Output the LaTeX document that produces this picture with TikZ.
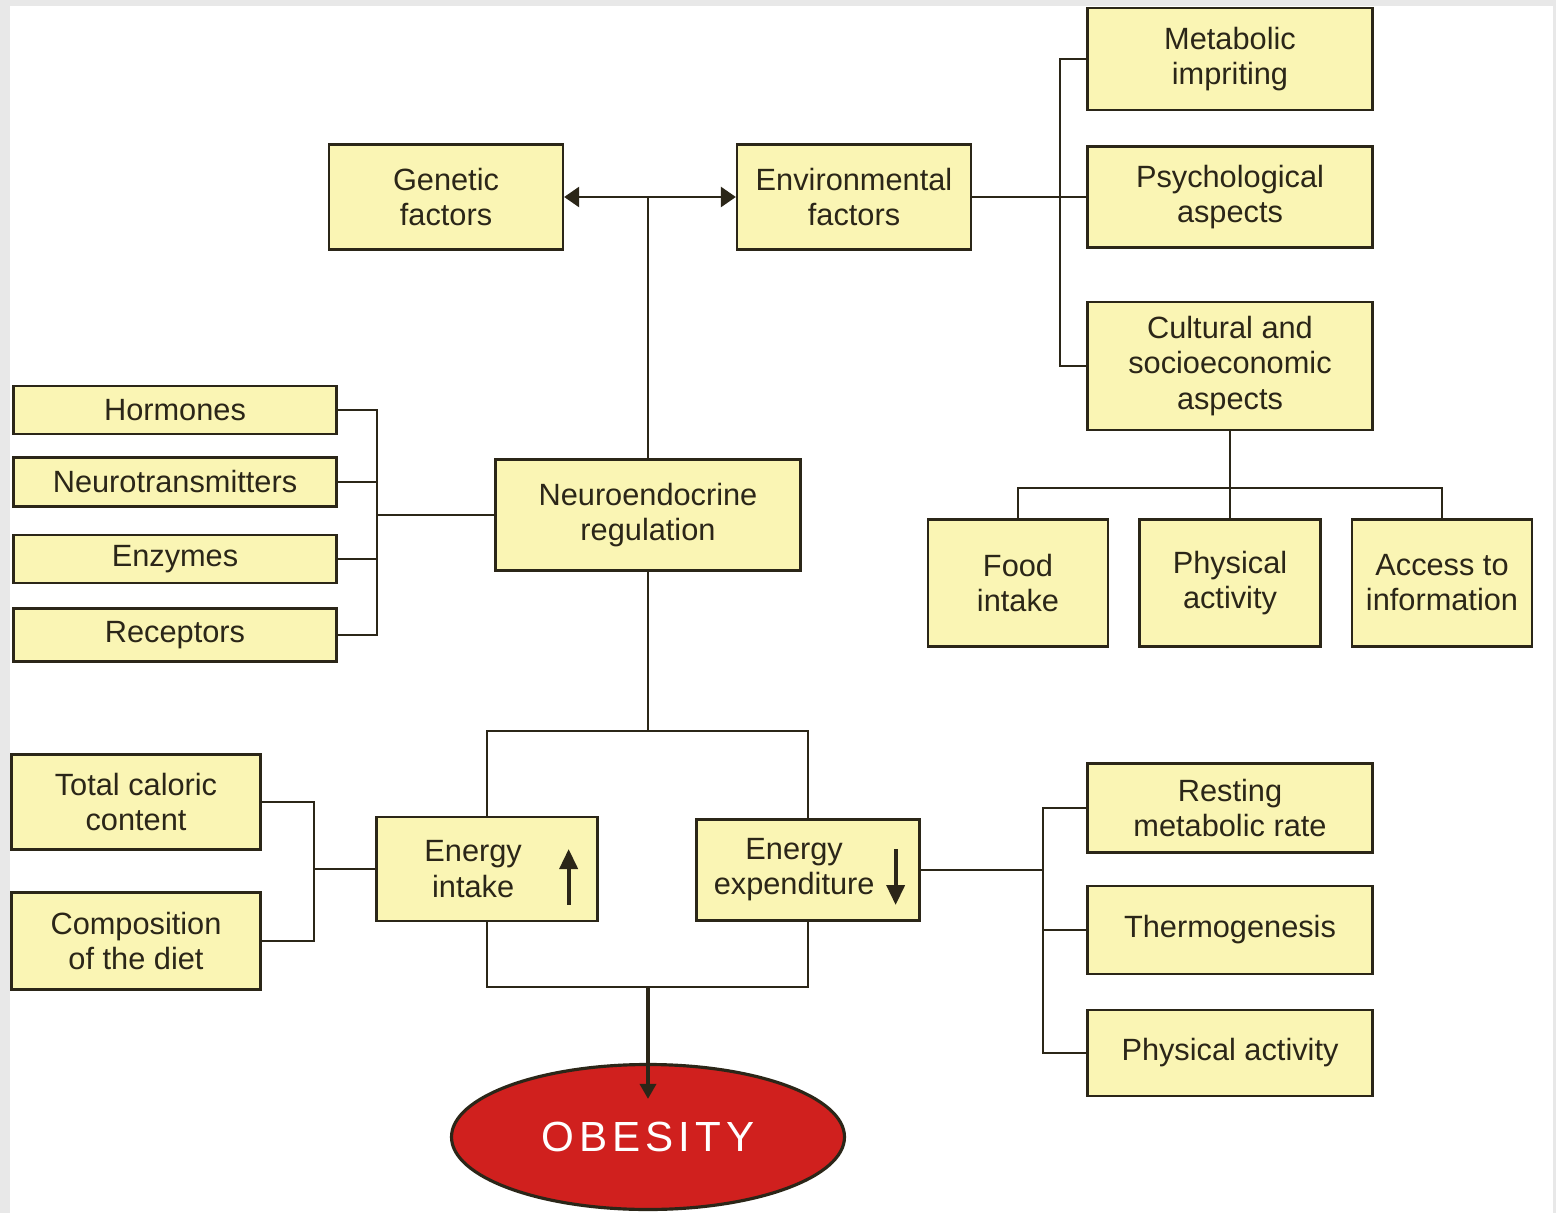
\documentclass[tikz,border=0pt]{standalone}
\usepackage{fontspec}
\setmainfont{Liberation Sans}
\usepackage{tikz}
\usetikzlibrary{arrows.meta,shapes.geometric}
\definecolor{boxfill}{HTML}{FAF5B4}
\definecolor{boxline}{HTML}{2B2618}
\definecolor{frame}{HTML}{E8E8E8}
\definecolor{obesered}{HTML}{D0201E}
\begin{document}
\begin{tikzpicture}[x=0.02cm,y=-0.02cm,line width=1.5pt,draw=boxline,
    box/.style={draw=boxline,fill=boxfill,line width=1.3pt,align=center,inner sep=0pt,
        font=\fontsize{17.5}{20}\selectfont,text=boxline},
    sz/.style 2 args={minimum width=#1*0.02cm,minimum height=#2*0.02cm},
    tip/.style={-{Triangle[length=0.3cm,width=0.4cm]}},
    updown/.style={line width=2.2pt,-{Triangle[length=0.4cm,width=0.36cm]}}]
        \useasboundingbox (0,0) rectangle (1556,1213);
        \fill[frame] (0,0) rectangle (1556,1213);
        \fill[white] (10,6) rectangle (1553,1213);
        \node[box,sz={234}{105}] (Genetic_factors) at (446,197) {Genetic\\factors};
        \node[box,sz={234}{105}] (Environmental_factors) at (854,197) {Environmental\\factors};
        \node[box,sz={285}{102}] (Metabolic_impriting) at (1230,59) {Metabolic\\impriting};
        \node[box,sz={285}{101}] (Psychological_aspects) at (1230,197) {Psychological\\aspects};
        \node[box,sz={285}{128}] (Cultural_aspects) at (1230,366) {Cultural and\\socioeconomic\\aspects};
        \node[box,sz={180}{127}] (Food_intake) at (1018,583) {Food\\intake};
        \node[box,sz={181}{127}] (Physical_activity) at (1230,583) {Physical\\activity};
        \node[box,sz={180}{127}] (Access_information) at (1442,583) {Access to\\information};
        \node[box,sz={323}{48}] (Hormones) at (175,410) {Hormones};
        \node[box,sz={323}{49}] (Neurotransmitters) at (175,482) {Neurotransmitters};
        \node[box,sz={323}{48}] (Enzymes) at (175,559) {Enzymes};
        \node[box,sz={323}{53}] (Receptors) at (175,635) {Receptors};
        \node[box,sz={305}{111}] (Neuroendocrine) at (648,515) {Neuroendocrine\\regulation};
        \node[box,sz={249}{95}] (Total_caloric) at (136,802) {Total caloric\\content};
        \node[box,sz={249}{97}] (Composition_diet) at (136,941) {Composition\\of the diet};
        \node[box,sz={221}{104}] (Energy_intake) at (487,869) {Energy\hspace*{0.9em}\\intake\hspace*{0.9em}};
        \node[box,sz={223}{101}] (Energy_expenditure) at (808,870) {Energy\hspace*{0.9em}\\expenditure\hspace*{0.9em}};
        \node[box,sz={285}{89}] (Resting_rate) at (1230,808) {Resting\\metabolic rate};
        \node[box,sz={285}{88}] (Thermogenesis) at (1230,930) {Thermogenesis};
        \node[box,sz={285}{86}] (Physical_activity_2) at (1230,1053) {Physical activity};
        \node[ellipse,draw=boxline,fill=obesered,line width=1.8pt,sz={393}{145},text=white,
            font=\fontsize{24}{28}\selectfont\addfontfeature{LetterSpace=12}] (Obesity) at (648,1137) {OBESITY};
        \coordinate (top_join) at (648,197);
        \coordinate (env_bus) at (1060,197);
        \coordinate (cult_join) at (1230,488);
        \coordinate (neuro_bus) at (377,515);
        \coordinate (energy_top) at (648,731);
        \coordinate (energy_bottom) at (648,987);
        \coordinate (diet_bus) at (314,869);
        \coordinate (exp_bus) at (1043,870);
        \draw[tip] (top_join) -- (Genetic_factors);
        \draw[tip] (top_join) -- (Environmental_factors);
        \draw (Neuroendocrine) -- (top_join);
        \draw (Environmental_factors) -- (env_bus);
        \draw (env_bus) |- (Metabolic_impriting);
        \draw (env_bus) -- (Psychological_aspects);
        \draw (env_bus) |- (Cultural_aspects);
        \draw (Cultural_aspects) -- (cult_join);
        \draw (cult_join) -| (Food_intake);
        \draw (cult_join) -- (Physical_activity);
        \draw (cult_join) -| (Access_information);
        \foreach \n in {Hormones,Neurotransmitters,Enzymes,Receptors}
            \draw (\n) -| (neuro_bus);
        \draw (neuro_bus) -- (Neuroendocrine);
        \draw (Neuroendocrine) -- (energy_top);
        \draw (energy_top) -| (Energy_intake);
        \draw (energy_top) -| (Energy_expenditure);
        \draw (Energy_intake) |- (energy_bottom);
        \draw (Energy_expenditure) |- (energy_bottom);
        \draw[line width=2pt,-{Triangle[length=0.3cm,width=0.32cm]}] (energy_bottom) -- ([yshift=-0.72cm]Obesity.north);
        \draw (Total_caloric) -| (diet_bus);
        \draw (Composition_diet) -| (diet_bus);
        \draw (diet_bus) -- (Energy_intake);
        \draw (Energy_expenditure) -- (exp_bus);
        \draw (exp_bus) |- (Resting_rate);
        \draw (exp_bus) |- (Thermogenesis);
        \draw (exp_bus) |- (Physical_activity_2);
        \draw[updown] ([xshift=-0.6cm,yshift=-0.72cm]Energy_intake.east) -- ([xshift=-0.6cm,yshift=0.4cm]Energy_intake.east);
        \draw[updown] ([xshift=-0.5cm,yshift=0.42cm]Energy_expenditure.east) -- ([xshift=-0.5cm,yshift=-0.7cm]Energy_expenditure.east);
    \end{tikzpicture}
\end{document}
